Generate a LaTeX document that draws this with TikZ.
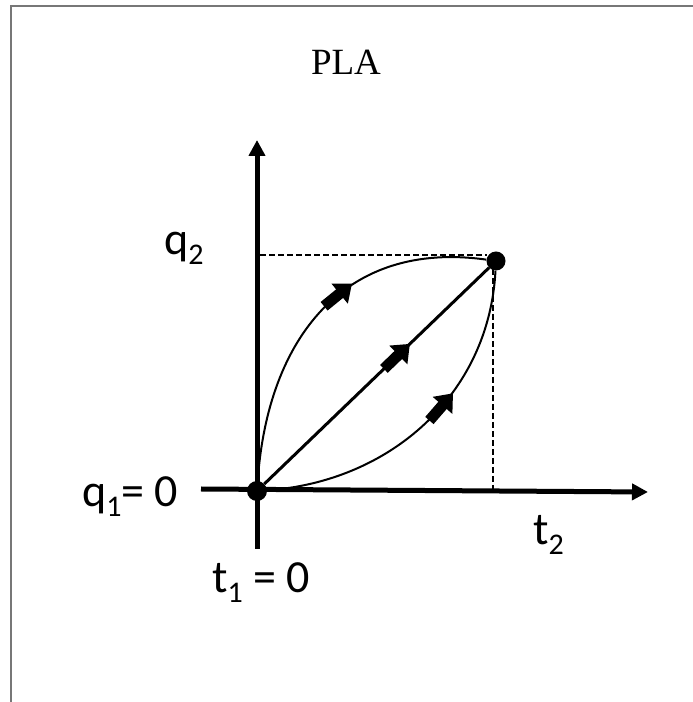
\documentclass[tikz,border=0pt]{standalone}
\usepackage{fontspec}
\setmainfont{Liberation Serif}
\newfontfamily\calfont{Carlito}
\usepackage{tikz}
\usetikzlibrary{arrows.meta, decorations.markings}
\definecolor{frame}{HTML}{777777}
\newcommand\lowsub[1]{\raisebox{-10pt}{\fontsize{30}{30}\selectfont #1}}

\begin{document}
\begin{tikzpicture}[
    x=1pt, y=1pt,
    axis/.style={line width=5pt, -{Triangle[length=16pt,width=16pt]}},
    dot/.style={circle, fill=black, inner sep=0pt, minimum size=20pt},
    guide/.style={line width=2.4pt, dashed, dash pattern=on 6pt off 3pt},
    path/.style={line width=2pt},
    diag/.style={line width=3pt},
    blockarrow/.style={line width=11pt, -{Triangle[length=16pt,width=25pt]}},
    flow/.style={postaction={decorate}, decoration={markings,
        mark=at position #1 with {\draw[blockarrow] (-18pt,0) -- (18pt,0);}}},
    lbl/.style={font=\calfont\fontsize{46}{46}\selectfont, inner sep=0pt, anchor=base west},
]
    \useasboundingbox (0,0) rectangle (693,702);
    % Frame
    \draw[frame, line width=2pt] (10.7,0) -- (10.7,696.3) -- (693,696.3);
    % Title
    \node[font=\fontsize{37}{37}\selectfont, inner sep=0pt, anchor=base] (title) at (346,627) {PLA};
    % Axes
    \coordinate (xl) at (201,213);
    \coordinate (xr) at (648,210);
    \coordinate (yb) at (257,153);
    \coordinate (yt) at (257,562);
    \draw[axis] (xl) -- (xr);
    \draw[axis] (yb) -- (yt);
    % End points
    \node[dot] (org) at (257,211) {};
    \node[dot, minimum size=19pt] (fin) at (496,441) {};
    % Guides
    \coordinate (qa) at (260,447);
    \coordinate (qb) at (487,447);
    \coordinate (ta) at (493,433);
    \coordinate (tb) at (493,212);
    \draw[guide] (qa) -- (qb);
    \draw[guide] (ta) -- (tb);
    % Paths
    \draw[path, flow=0.57] (org) to[out=86, in=172, looseness=1.15] (fin);
    \draw[diag, flow=0.59] (org) -- (fin);
    \draw[path, flow=0.57] (org) to[out=4, in=-93] (fin);
    % Labels
    \node[lbl] (qtwo) at (164,447) {q\lowsub{2}};
    \node[lbl] (qone) at (82,195) {q\lowsub{1}= 0};
    \node[lbl] (tone) at (212,109) {t\lowsub{1} = 0};
    \node[lbl] (ttwo) at (533,157) {t\lowsub{2}};
\end{tikzpicture}
\end{document}
